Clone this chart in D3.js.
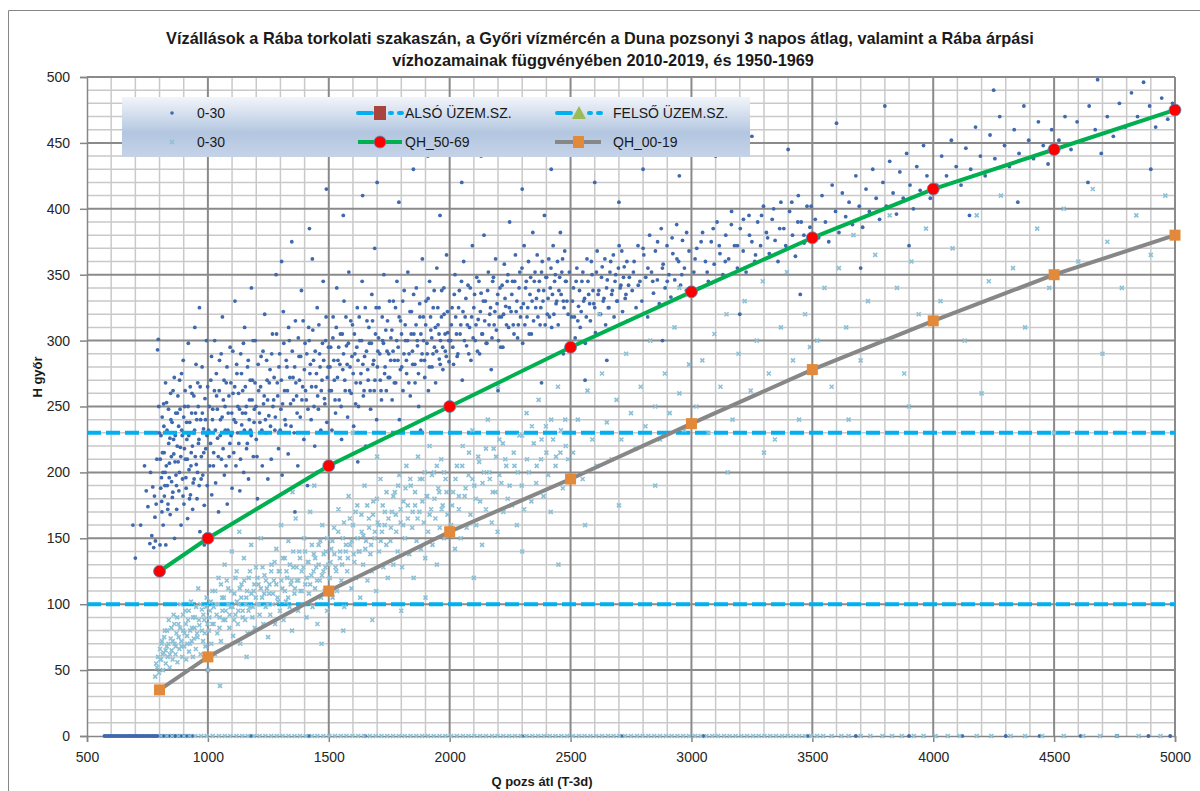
<!DOCTYPE html>
<html>
<head>
<meta charset="utf-8">
<script src="https://cdn.jsdelivr.net/npm/d3@7"></script>
<style>
  body { margin: 0; background: #fff; }
  text { font-family: "Liberation Sans", Arial, sans-serif; }
</style>
</head>
<body>
<div id="chart"></div>
<script>
// ---- data ----
const xTicks = [500, 1000, 1500, 2000, 2500, 3000, 3500, 4000, 4500, 5000];
const yTicks = [0, 50, 100, 150, 200, 250, 300, 350, 400, 450, 500];

const qhCurveQ = [800, 1000, 1500, 2000, 2500, 3000, 3500, 4000, 4500, 5000];
const qh5069 = [125, 150, 205, 250, 295, 337, 378, 415, 445, 475];
const qh0019 = [35, 60, 110, 155, 195, 237, 278, 315, 350, 380];

const alsoLevel = 100;   // ALSÓ ÜZEM.SZ.
const felsoLevel = 230;  // FELSŐ ÜZEM.SZ.

// 0-30 (dark dots), spread + outliers
const darkPts = [
  [690,160],[700,135],[722,160],[738,205],[745,186],[752,174],[760,146],[763,200],[768,152],[772,189],[776,143],[779,182],[783,148],[786,176],[789,210],[792,293],[795,301],[797,250],[799,230],[781,166],
  [802,145],[805,188],[808,196],[810,170],[812,215],[815,160],[818,235],[820,182],[823,200],[826,145],[829,253],[832,190],[835,176],[838,222],[841,207],[844,168],[847,240],[850,193],[853,181],[856,262],[859,214],[862,150],[865,228],[868,198],[871,172],[874,245],[877,208],[880,186],[883,270],[886,219],[889,160],[892,232],[895,195],[898,285],[901,176],[904,250],[907,210],[910,188],[913,225],[916,165],[919,298],[922,202],[925,238],[928,183],[931,215],[934,260],[937,172],[940,230],[943,195],[946,310],[949,245],[952,206],[955,180],[958,268],[961,222],[964,190],[967,155],[970,240],[973,212],[976,280],[979,198],[982,233],[985,175],[988,256],[991,218],[994,300],[997,190],[999,265],[965,325],[985,145],
  [1003,232],[1008,205],[1012,270],[1016,183],[1020,248],[1024,215],[1028,300],[1032,192],[1036,258],[1040,226],[1044,170],[1048,285],[1052,240],[1056,210],[1060,318],[1064,255],[1068,198],[1072,232],[1076,268],[1080,176],[1084,245],[1088,212],[1092,295],[1096,228],[1100,188],[1104,260],[1108,240],[1112,330],[1116,205],[1120,275],[1124,250],[1128,222],[1132,186],[1136,290],[1140,236],[1144,262],[1148,200],[1152,310],[1156,245],[1160,218],[1164,280],[1168,195],[1172,255],[1176,232],[1180,340],[1184,270],[1188,212],[1192,248],[1196,300],[1200,225],[1205,180],[1210,262],[1215,238],[1220,288],[1225,205],[1230,252],[1235,320],[1240,230],[1245,270],[1248,195],
  [1252,243],[1257,278],[1262,210],[1267,305],[1272,255],[1277,232],[1282,350],[1287,268],[1292,218],[1297,290],[1302,248],[1307,198],[1312,322],[1317,262],[1322,236],[1327,280],[1332,214],[1337,300],[1342,252],[1347,375],[1352,272],[1357,230],[1362,315],[1367,258],[1372,205],[1377,288],[1382,242],[1387,338],[1392,265],[1397,225],[1402,298],[1407,255],[1412,190],[1417,310],[1422,275],[1427,240],[1432,362],[1437,285],[1442,220],[1447,265],[1452,325],[1457,248],[1462,290],[1467,232],[1472,270],[1477,345],[1482,256],[1487,300],[1492,238],[1497,280],[1305,360],[1420,385],[1360,170],[1450,200],[1490,415],
  [1503,262],[1508,295],[1513,232],[1518,318],[1523,270],[1528,245],[1533,340],[1538,285],[1543,255],[1548,305],[1553,225],[1558,278],[1563,330],[1568,262],[1573,296],[1578,242],[1583,352],[1588,280],[1593,260],[1598,312],[1603,235],[1608,290],[1613,268],[1618,325],[1623,250],[1628,300],[1633,275],[1638,345],[1643,258],[1648,288],[1653,220],[1658,315],[1663,270],[1668,298],[1673,248],[1678,335],[1683,282],[1688,262],[1693,305],[1698,240],[1703,292],[1708,325],[1713,270],[1718,255],[1723,300],[1728,350],[1733,280],[1738,262],[1743,315],[1748,290],[1560,395],[1640,410],[1700,420],[1620,208],[1690,370],
  [1752,272],[1757,302],[1762,255],[1767,330],[1772,285],[1777,268],[1782,345],[1787,295],[1792,240],[1797,315],[1802,280],[1807,262],[1812,338],[1817,300],[1822,275],[1827,352],[1832,290],[1837,258],[1842,322],[1847,282],[1852,305],[1857,268],[1862,340],[1867,296],[1872,250],[1877,318],[1882,285],[1887,362],[1892,300],[1897,272],[1902,330],[1907,290],[1912,262],[1917,345],[1922,308],[1927,280],[1932,325],[1937,295],[1942,268],[1947,355],[1952,312],[1957,286],[1962,300],[1967,338],[1972,278],[1977,320],[1982,292],[1987,365],[1992,306],[1997,284],[1790,405],[1850,430],[1910,440],[1960,395],[1880,232],
  [2004,300],[2010,325],[2016,282],[2022,350],[2028,305],[2034,290],[2040,338],[2046,312],[2052,270],[2058,360],[2064,318],[2070,296],[2076,342],[2082,310],[2088,285],[2094,372],[2100,325],[2106,300],[2112,348],[2118,316],[2124,290],[2130,336],[2136,305],[2142,380],[2148,330],[2154,298],[2160,352],[2166,320],[2172,278],[2178,345],[2184,312],[2190,362],[2196,328],[2202,300],[2208,340],[2214,318],[2220,295],[2226,358],[2232,326],[2238,345],[2244,310],[2248,390],[2050,420],[2130,440],[2200,262],
  [2254,322],[2260,345],[2266,305],[2272,365],[2278,330],[2284,312],[2290,352],[2296,325],[2302,298],[2308,372],[2314,340],[2320,318],[2326,360],[2332,335],[2338,305],[2344,382],[2350,345],[2356,325],[2362,365],[2368,338],[2374,312],[2380,352],[2386,330],[2392,395],[2398,348],[2404,320],[2410,362],[2416,340],[2422,310],[2428,372],[2434,345],[2440,328],[2446,360],[2452,338],[2458,382],[2464,352],[2470,330],[2476,368],[2482,345],[2490,320],[2300,415],[2420,430],[2380,268],[2470,290],
  [2505,318],[2512,340],[2519,302],[2526,355],[2533,326],[2540,310],[2547,345],[2554,330],[2561,298],[2568,362],[2575,335],[2582,315],[2589,350],[2596,328],[2603,306],[2610,368],[2617,338],[2624,320],[2631,356],[2638,332],[2645,312],[2652,346],[2659,325],[2666,360],[2673,338],[2680,318],[2687,350],[2694,330],[2701,372],[2708,342],[2715,322],[2722,356],[2729,335],[2736,315],[2743,348],[2600,420],[2700,405],[2560,270],[2650,285],
  [2755,338],[2763,360],[2771,325],[2779,372],[2787,345],[2795,330],[2803,365],[2811,348],[2819,318],[2827,380],[2835,352],[2843,336],[2851,368],[2859,346],[2867,328],[2875,385],[2883,358],[2891,340],[2899,372],[2907,350],[2915,333],[2923,366],[2931,346],[2939,388],[2947,360],[2955,342],[2963,376],[2971,355],[2979,338],[2990,368],[2800,430],[2950,425],[2880,300],
  [3010,352],[3022,370],[3034,340],[3046,382],[3058,360],[3070,345],[3082,375],[3094,358],[3106,390],[3118,366],[3130,350],[3142,380],[3154,362],[3166,398],[3178,372],[3190,355],[3202,385],[3214,368],[3226,352],[3238,395],[3250,375],[3262,360],[3274,390],[3286,372],[3298,402],[3310,382],[3322,366],[3334,392],[3346,376],[3358,360],[3370,405],[3382,385],[3394,370],[3406,398],[3418,380],[3430,364],[3442,410],[3454,390],[3466,374],[3478,402],[3490,386],[3100,440],[3250,455],[3400,445],[3200,320],[3450,335],
  [3512,392],[3526,378],[3540,410],[3554,390],[3568,375],[3582,418],[3596,398],[3610,382],[3624,412],[3638,394],[3652,405],[3666,388],[3680,425],[3694,402],[3708,386],[3722,415],[3736,398],[3750,430],[3764,408],[3778,392],[3792,420],[3806,402],[3820,436],[3834,412],[3848,396],[3862,428],[3876,408],[3890,442],[3904,418],[3918,400],[3932,432],[3946,414],[3960,448],[3974,425],[3988,408],[3600,465],[3800,478],[3700,355],[3900,372],
  [4015,418],[4035,440],[4055,425],[4075,452],[4095,432],[4115,418],[4135,446],[4155,430],[4175,462],[4195,440],[4215,425],[4235,456],[4255,438],[4275,470],[4295,448],[4315,432],[4335,460],[4355,442],[4375,478],[4395,452],[4415,438],[4435,466],[4455,448],[4475,434],[4490,460],[4150,395],[4350,405],[4250,490],
  [4520,452],[4545,470],[4570,445],[4595,466],[4620,452],[4645,478],[4670,460],[4695,442],[4720,470],[4745,455],[4770,480],[4795,462],[4820,488],[4845,470],[4870,496],[4895,478],[4920,462],[4945,484],[4970,468],[4990,480],[4640,420],[4900,430],[4680,498]
];

// 0-30 (dark dots), dense core of the cloud
const darkCore = [
  [803,210],[806,228],[809,178],[811,242],[814,200],[817,252],[819,215],[822,190],[825,268],[828,205],[831,232],[834,172],[837,248],[840,196],[843,226],[846,260],[849,212],[852,238],[855,185],[858,225],[861,272],[864,208],[867,245],[870,190],[873,220],[876,258],[879,235],[882,200],[885,248],[888,212],[891,275],[894,228],[897,182],[900,242],[903,218],[906,262],[909,196],[912,238],[915,210],[918,250],[921,228],[924,180],[927,265],[930,205],[933,245],[936,220],[939,192],[942,258],[945,232],[948,212],[951,282],[954,240],[957,200],[960,250],[963,225],[968,265],[972,195],[977,245],[983,215],[990,240],[996,228],
  [1006,250],[1011,222],[1015,288],[1019,240],[1023,205],[1027,262],[1031,232],[1035,275],[1039,248],[1043,212],[1047,262],[1051,228],[1055,290],[1059,242],[1063,218],[1067,270],[1071,250],[1075,205],[1079,280],[1083,232],[1087,258],[1091,222],[1095,268],[1099,245],[1103,292],[1107,215],[1111,265],[1115,238],[1119,282],[1123,230],[1127,260],[1131,248],[1135,210],[1139,275],[1143,245],[1147,298],[1151,232],[1155,265],[1159,250],[1163,222],[1167,285],[1171,240],[1175,270],[1179,228],[1183,255],[1187,300],[1191,238],[1195,268],[1199,250],[1203,212],[1208,282],[1213,245],[1218,265],[1223,232],[1228,292],[1233,258],[1238,240],[1243,285],[1247,255],
  [1254,268],[1259,235],[1264,290],[1269,250],[1274,272],[1279,242],[1284,305],[1289,258],[1294,280],[1299,232],[1304,270],[1309,252],[1314,298],[1319,240],[1324,285],[1329,262],[1334,310],[1339,272],[1344,235],[1349,292],[1354,255],[1359,280],[1364,268],[1369,245],[1374,302],[1379,270],[1384,288],[1389,255],[1394,315],[1399,278],[1404,262],[1409,290],[1414,248],[1419,300],[1424,282],[1429,265],[1434,308],[1439,250],[1444,292],[1449,275],[1454,258],[1459,312],[1464,280],[1469,262],[1474,298],[1479,285],[1484,252],[1489,318],[1494,272],[1499,295],
  [1505,280],[1511,262],[1517,302],[1521,285],[1526,255],[1531,310],[1536,272],[1541,295],[1546,282],[1551,250],[1556,305],[1561,290],[1566,270],[1571,318],[1576,282],[1581,298],[1586,262],[1591,315],[1596,288],[1601,275],[1606,305],[1611,252],[1616,295],[1621,285],[1626,318],[1631,268],[1636,300],[1641,282],[1646,262],[1651,325],[1656,292],[1661,278],[1666,310],[1671,262],[1676,298],[1681,315],[1686,285],[1691,270],[1696,325],[1701,280],[1706,302],[1711,290],[1716,262],[1721,318],[1726,298],[1731,275],[1736,308],[1741,292],[1746,272],
  [1751,330],[1756,285],[1761,308],[1766,292],[1771,268],[1776,325],[1781,300],[1786,285],[1791,318],[1796,278],[1801,305],[1806,330],[1811,290],[1816,312],[1821,285],[1826,300],[1831,268],[1836,322],[1841,305],[1846,292],[1851,335],[1856,282],[1861,312],[1866,300],[1871,275],[1876,328],[1881,305],[1886,290],[1891,318],[1896,285],[1901,312],[1906,298],[1911,332],[1916,280],[1921,318],[1926,302],[1931,290],[1936,338],[1941,310],[1946,292],[1951,325],[1956,305],[1961,282],[1966,318],[1971,295],[1976,340],[1981,305],[1986,288],[1991,322],[1996,300],
  [2007,312],[2013,295],[2019,335],[2025,318],[2031,288],[2037,325],[2043,305],[2049,345],[2055,322],[2061,300],[2067,332],[2073,312],[2079,290],[2085,340],[2091,318],[2097,302],[2103,335],[2109,312],[2115,292],[2121,345],[2127,322],[2133,305],[2139,330],[2145,315],[2151,298],[2157,338],[2163,312],[2169,325],[2175,302],[2181,348],[2187,322],[2193,308],[2199,335],[2205,318],[2211,295],[2217,342],[2223,320],[2229,332],[2235,312],[2241,350],[2247,325],
  [2257,335],[2263,312],[2269,345],[2275,322],[2281,302],[2287,340],[2293,318],[2299,355],[2305,328],[2311,312],[2317,345],[2323,325],[2329,305],[2335,348],[2341,330],[2347,315],[2353,352],[2359,332],[2365,318],[2371,345],[2377,325],[2383,360],[2389,338],[2395,312],[2401,348],[2407,332],[2413,318],[2419,355],[2425,335],[2431,320],[2437,350],[2443,330],[2449,312],[2455,348],[2461,335],[2467,362],[2473,325],[2479,345],[2485,330],[2495,352],
  [2508,330],[2516,318],[2523,345],[2530,315],[2537,338],[2544,322],[2551,352],[2558,332],[2565,318],[2572,345],[2579,328],[2586,360],[2593,338],[2600,325],[2607,352],[2614,335],[2621,320],[2628,348],[2635,330],[2642,362],[2649,340],[2656,325],[2663,352],[2670,335],[2677,365],[2684,345],[2691,330],[2698,355],[2705,340],[2712,368],[2719,348],[2726,332],[2733,360],[2740,342],[2760,352],[2780,342],[2800,370],[2820,355],[2840,345],[2860,375],[2880,355],[2900,345],[2920,378],[2940,362],[2960,350],[2980,382],
  [3015,362],[3040,375],[3065,352],[3090,385],[3115,372],[3140,360],[3165,388],[3190,372],[3215,392],[3240,380],[3265,365],[3290,395],[3315,378],[3340,400],[3365,385],[3390,372],[3415,405],[3440,390],[3465,380],[3495,402]
];

// 0-30 (light x markers), spread + outliers
const lightPts = [
  [782,45],[786,55],[790,52],[794,60],[798,48],[802,66],[806,58],[810,72],[814,50],[818,63],[822,80],[826,55],[830,68],[834,60],[838,88],[842,52],[846,74],[850,65],[854,58],[858,92],[862,70],[866,62],[870,78],[874,56],[878,85],[882,66],[886,100],[890,72],[894,60],[898,80],[902,68],[906,95],[910,58],[914,76],[918,88],[922,64],[926,70],[930,102],[934,82],[938,60],[942,74],[946,90],[950,66],[955,78],[960,112],[965,84],[970,62],[975,96],[980,72],[985,88],[990,68],[995,105],[1050,38],[1000,50],
  [1004,80],[1009,95],[1014,70],[1019,110],[1024,85],[1029,62],[1034,100],[1039,78],[1044,120],[1049,90],[1054,72],[1059,105],[1064,88],[1069,130],[1074,95],[1079,68],[1084,112],[1089,82],[1094,98],[1099,140],[1104,76],[1109,108],[1114,92],[1119,125],[1124,85],[1129,100],[1134,70],[1139,115],[1144,95],[1149,135],[1154,88],[1159,105],[1164,78],[1169,120],[1174,98],[1179,145],[1184,90],[1189,110],[1194,82],[1199,128],[1204,100],[1209,115],[1214,92],[1219,150],[1224,105],[1229,85],[1234,122],[1239,98],[1244,112],[1249,75],[1130,155],[1160,60],
  [1253,108],[1258,92],[1263,130],[1268,100],[1273,118],[1278,85],[1283,142],[1288,105],[1293,125],[1298,95],[1303,160],[1308,112],[1313,88],[1318,135],[1323,102],[1328,120],[1333,148],[1338,98],[1343,115],[1348,80],[1353,128],[1358,108],[1363,165],[1368,118],[1373,95],[1378,140],[1383,110],[1388,125],[1393,100],[1398,150],[1403,115],[1408,90],[1413,132],[1418,108],[1423,170],[1428,122],[1433,98],[1438,138],[1443,112],[1448,128],[1453,85],[1458,145],[1463,118],[1468,105],[1473,160],[1478,125],[1483,110],[1488,140],[1493,95],[1498,130],[1350,185],[1440,190],[1470,70],
  [1504,120],[1510,142],[1516,105],[1522,158],[1528,128],[1534,110],[1540,172],[1546,135],[1552,118],[1558,150],[1564,98],[1570,140],[1576,125],[1582,182],[1588,145],[1594,112],[1600,160],[1606,132],[1612,120],[1618,175],[1624,140],[1630,105],[1636,155],[1642,130],[1648,190],[1654,148],[1660,118],[1666,165],[1672,138],[1678,125],[1684,178],[1690,150],[1696,110],[1702,162],[1708,140],[1714,195],[1720,155],[1726,128],[1732,170],[1738,145],[1744,120],[1600,230],[1700,212],[1560,80],[1680,88],
  [1755,148],[1761,170],[1767,130],[1773,185],[1779,155],[1785,140],[1791,198],[1797,162],[1803,128],[1809,178],[1815,150],[1821,205],[1827,165],[1833,138],[1839,190],[1845,158],[1851,120],[1857,175],[1863,148],[1869,212],[1875,170],[1881,142],[1887,195],[1893,162],[1899,135],[1905,182],[1911,155],[1917,220],[1923,172],[1929,145],[1935,200],[1941,165],[1947,130],[1953,188],[1959,158],[1965,210],[1971,175],[1977,150],[1983,195],[1991,168],[1800,95],[1900,105],
  [2006,160],[2014,185],[2022,142],[2030,205],[2038,172],[2046,150],[2054,220],[2062,182],[2070,158],[2078,198],[2086,168],[2094,232],[2102,190],[2110,160],[2118,212],[2126,178],[2134,145],[2142,200],[2150,172],[2158,240],[2166,195],[2174,162],[2182,218],[2190,185],[2198,155],[2206,225],[2214,192],[2222,170],[2230,210],[2240,180],[2100,120],[2200,265],
  [2258,175],[2268,205],[2278,160],[2288,228],[2298,190],[2308,172],[2318,245],[2328,200],[2338,178],[2348,222],[2358,192],[2368,255],[2378,210],[2388,182],[2398,235],[2408,198],[2418,170],[2428,225],[2438,205],[2448,265],[2458,215],[2468,188],[2478,240],[2490,210],[2300,140],[2450,130],
  [2510,215],[2530,240],[2550,195],[2570,262],[2590,225],[2610,205],[2630,275],[2650,238],[2670,210],[2690,255],[2710,225],[2730,290],[2750,245],[2770,218],[2790,265],[2810,235],[2830,300],[2850,250],[2870,225],[2890,275],[2910,245],[2930,310],[2950,260],[2970,232],[2990,282],[2560,160],[2700,175],[2850,190],[2620,320],[2950,340],
  [3020,250],[3045,285],[3070,230],[3095,305],[3120,265],[3145,320],[3170,240],[3195,290],[3220,330],[3245,262],[3270,300],[3295,345],[3320,275],[3345,225],[3370,310],[3395,352],[3420,285],[3445,240],[3470,320],[3490,295],[3150,200],[3300,215],
  [3520,300],[3550,340],[3580,265],[3610,355],[3640,310],[3670,380],[3700,285],[3730,330],[3760,365],[3790,300],[3820,395],[3850,340],[3880,275],[3910,360],[3940,320],[3970,385],[3650,240],[3900,250],
  [4030,330],[4080,370],[4130,300],[4180,395],[4230,345],[4280,410],[4330,355],[4380,310],[4430,385],[4480,340],[4540,400],[4600,360],[4660,415],[4720,375],[4780,340],[4840,395],[4900,365],[4960,410],[4200,260],[4700,290],[4500,230]
];

// 0-30 (light x markers), dense core
const lightCore = [
  [803,58],[808,70],[813,62],[819,75],[825,65],[831,80],[837,70],[843,62],[849,82],[855,72],[861,85],[867,68],[873,90],[879,75],[885,82],[891,68],[897,92],[903,78],[909,85],[915,70],[921,95],[927,80],[933,72],[939,90],[945,82],[951,98],[957,75],[963,88],[969,100],[975,80],[981,92],[987,78],[993,98],[998,85],
  [1006,90],[1012,102],[1018,85],[1024,98],[1030,110],[1036,92],[1042,100],[1048,82],[1054,115],[1060,95],[1066,105],[1072,88],[1078,118],[1084,100],[1090,92],[1096,110],[1102,98],[1108,88],[1114,120],[1120,102],[1126,95],[1132,112],[1138,105],[1144,90],[1150,118],[1156,100],[1162,110],[1168,95],[1174,125],[1180,108],[1186,98],[1192,115],[1198,105],[1205,120],[1212,100],[1219,112],[1226,128],[1233,108],[1240,118],[1247,100],
  [1255,115],[1262,125],[1269,108],[1276,132],[1283,115],[1290,102],[1297,125],[1304,118],[1311,135],[1318,110],[1325,125],[1332,105],[1339,130],[1346,118],[1353,140],[1360,112],[1367,128],[1374,118],[1381,135],[1388,110],[1395,128],[1402,140],[1409,120],[1416,132],[1423,115],[1430,145],[1437,125],[1444,135],[1451,118],[1458,130],[1465,148],[1472,122],[1479,138],[1486,128],[1493,150],
  [1507,132],[1515,148],[1523,138],[1531,125],[1539,155],[1547,140],[1555,130],[1563,162],[1571,145],[1579,135],[1587,165],[1595,148],[1603,138],[1611,170],[1619,150],[1627,140],[1635,168],[1643,152],[1651,142],[1659,175],[1667,158],[1675,145],[1683,168],[1691,155],[1699,180],[1707,160],[1715,148],[1723,175],[1731,160],[1739,185],[1747,165],
  [1757,158],[1767,182],[1777,168],[1787,190],[1797,172],[1807,160],[1817,188],[1827,175],[1837,195],[1847,170],[1857,185],[1867,165],[1877,195],[1887,178],[1897,200],[1907,182],[1917,168],[1927,198],[1937,180],[1947,205],[1957,185],[1967,172],[1977,200],[1987,185],
  [2010,175],[2024,195],[2038,182],[2052,205],[2066,188],[2080,215],[2094,195],[2108,180],[2122,208],[2136,192],[2150,218],[2164,200],[2178,185],[2192,212],[2206,198],[2220,222],[2234,205],[2248,190],[2265,215],[2282,200],[2300,228],[2320,210],[2340,235],[2360,205],[2380,225],[2400,215],[2420,240],[2440,212],[2460,232],[2480,220]
];

// points sitting on H = 0
const zeroDarkQ = [572,580,588,595,603,611,618,626,634,641,649,657,664,672,680,687,695,703,710,718,726,733,741,749,756,764,772,779,787,795,802,810,818,826,834,842,850,858,866,874,882,890,898,906,915,925,935,1180,1420,1650,2300,2710,3050,3480,3680,3900,4120,4300,4440,4610,4760,4890,4980];
const zeroLightQ = [805,830,852,878,901,925,948,972,995,1020,1046,1070,1093,1118,1142,1165,1190,1214,1238,1262,1285,1310,1334,1358,1381,1405,1430,1453,1478,1502,1526,1550,1573,1598,1622,1646,1670,1694,1718,1742,1766,1790,1814,1838,1862,1886,1910,1934,1958,1982,2006,2030,2055,2078,2102,2126,2150,2175,2198,2222,2246,2270,2294,2318,2342,2366,2390,2414,2438,2462,2486,2510,2535,2558,2582,2606,2630,2655,2678,2702,2726,2750,2775,2798,2822,2846,2870,2895,2918,2942,2966,2990,3015,3038,3062,3086,3110,3135,3158,3182,3206,3230,3255,3278,3302,3326,3350,3375,3398,3422,3446,3470,3495,3520,3545,3580,3620,3650,3700,3740,3790,3830,3870,3920,3960,4010,4060,4110,4180,4240,4320,4380,4450,4540,4620,4690,4760,4850,4940];

// ---- layout ----
const W = 1200, H = 791;
const plot = { left: 87, right: 1175, top: 77, bottom: 736 };

const x = d3.scaleLinear().domain([500, 5000]).range([plot.left, plot.right]);
const y = d3.scaleLinear().domain([0, 500]).range([plot.bottom, plot.top]);

const darkCol = "#3f68ad", lightCol = "#8cc0d6", dashCol = "#00b0f0";

const svg = d3.select("#chart").append("svg")
  .attr("width", W).attr("height", H);

svg.append("rect").attr("width", W).attr("height", H).attr("fill", "#fff");

// outer chart frame (only left/top visible)
svg.append("path")
  .attr("d", `M8.5,${H + 5} V10.5 H${W + 5}`)
  .attr("fill", "none").attr("stroke", "#868686").attr("stroke-width", 1);

// title
const title = svg.append("text")
  .attr("text-anchor", "middle")
  .attr("font-weight", "bold").attr("font-size", 16.3).attr("fill", "#1a1a1a");
title.append("tspan").attr("x", 600).attr("y", 44)
  .text("Vízállások a Rába torkolati szakaszán, a Győri vízmércén a Duna pozsonyi 3 napos átlag, valamint a Rába árpási");
title.append("tspan").attr("x", 603).attr("y", 66)
  .text("vízhozamainak függvényében 2010-2019, és 1950-1969");

// ---- grid ----
const grid = svg.append("g");
const minorX = d3.range(600, 5000, 100).filter(v => v % 500 !== 0);
const minorY = d3.range(10, 500, 10).filter(v => v % 50 !== 0);

grid.selectAll(".vx").data(minorX).join("line")
  .attr("x1", d => x(d)).attr("x2", d => x(d))
  .attr("y1", plot.top).attr("y2", plot.bottom)
  .attr("stroke", "#c9c9c9").attr("stroke-width", 1.5);
grid.selectAll(".hy").data(minorY).join("line")
  .attr("y1", d => y(d)).attr("y2", d => y(d))
  .attr("x1", plot.left).attr("x2", plot.right)
  .attr("stroke", "#c9c9c9").attr("stroke-width", 1.5);
grid.selectAll(".vX").data(xTicks.slice(1)).join("line")
  .attr("x1", d => x(d)).attr("x2", d => x(d))
  .attr("y1", plot.top).attr("y2", plot.bottom)
  .attr("stroke", "#8a8a8a").attr("stroke-width", 2);
grid.selectAll(".hY").data(yTicks.slice(1)).join("line")
  .attr("y1", d => y(d)).attr("y2", d => y(d))
  .attr("x1", plot.left).attr("x2", plot.right)
  .attr("stroke", "#8a8a8a").attr("stroke-width", 2);

// ---- axes ----
const xAxis = svg.append("g")
  .attr("transform", `translate(0,${plot.bottom})`)
  .call(d3.axisBottom(x).tickValues(xTicks).tickSize(6).tickPadding(10).tickFormat(d3.format("d")));
const yAxis = svg.append("g")
  .attr("transform", `translate(${plot.left},0)`)
  .call(d3.axisLeft(y).tickValues(yTicks).tickSize(7).tickPadding(10).tickFormat(d3.format("d")));
[xAxis, yAxis].forEach(a => {
  a.select(".domain").attr("stroke", "#868686").attr("stroke-width", 1.5);
  a.selectAll(".tick line").attr("stroke", "#868686").attr("stroke-width", 1.5);
  a.selectAll(".tick text").attr("font-size", 14).attr("fill", "#262626")
    .attr("font-family", "Liberation Sans, Arial, sans-serif");
});

svg.append("text").attr("x", 542).attr("y", 786).attr("text-anchor", "middle")
  .attr("font-weight", "bold").attr("font-size", 13).attr("fill", "#1a1a1a")
  .text("Q pozs átl (T-3d)");
svg.append("text").attr("transform", "translate(42,377) rotate(-90)").attr("text-anchor", "middle")
  .attr("font-weight", "bold").attr("font-size", 13).attr("fill", "#1a1a1a")
  .text("H győr");

// ---- series ----
const xMark = s => `M${-s},${-s}L${s},${s}M${-s},${s}L${s},${-s}`;

// dark dots (incl. zeros)
const darkAll = darkPts.concat(darkCore, zeroDarkQ.map(q => [q, 0]));
svg.append("g").selectAll("circle").data(darkAll).join("circle")
  .attr("cx", d => x(d[0])).attr("cy", d => y(d[1])).attr("r", 1.9)
  .attr("fill", darkCol);

// operating levels (dashed)
const levels = [alsoLevel, felsoLevel];
svg.append("g").selectAll("line").data(levels).join("line")
  .attr("x1", x(500)).attr("x2", x(5000))
  .attr("y1", d => y(d)).attr("y2", d => y(d))
  .attr("stroke", dashCol).attr("stroke-width", 4)
  .attr("stroke-dasharray", "14,5");

// light x markers (incl. zeros)
const lightAll = lightPts.concat(lightCore, zeroLightQ.map(q => [q, 0]));
svg.append("g").selectAll("path").data(lightAll).join("path")
  .attr("transform", d => `translate(${x(d[0])},${y(d[1])})`)
  .attr("d", xMark(2))
  .attr("stroke", lightCol).attr("stroke-width", 1.6).attr("fill", "none");

// QH curves
const line = d3.line().x(d => x(d[0])).y(d => y(d[1]));
const c5069 = qhCurveQ.map((q, i) => [q, qh5069[i]]);
const c0019 = qhCurveQ.map((q, i) => [q, qh0019[i]]);

svg.append("path").datum(c5069).attr("d", line)
  .attr("fill", "none").attr("stroke", "#00b050").attr("stroke-width", 4);
svg.append("g").selectAll("circle").data(c5069).join("circle")
  .attr("cx", d => x(d[0])).attr("cy", d => y(d[1])).attr("r", 6)
  .attr("fill", "#ff0000").attr("stroke", "#4a8fc4").attr("stroke-width", 0.8);

svg.append("path").datum(c0019).attr("d", line)
  .attr("fill", "none").attr("stroke", "#878787").attr("stroke-width", 4);
svg.append("g").selectAll("rect").data(c0019).join("rect")
  .attr("x", d => x(d[0]) - 5.5).attr("y", d => y(d[1]) - 5.5)
  .attr("width", 11).attr("height", 11)
  .attr("fill", "#e2893a");

// ---- legend ----
const defs = svg.append("defs");
const grad = defs.append("linearGradient").attr("id", "lg").attr("x1", 0).attr("x2", 0).attr("y1", 0).attr("y2", 1);
grad.append("stop").attr("offset", "0%").attr("stop-color", "#f2f5fa");
grad.append("stop").attr("offset", "60%").attr("stop-color", "#b3c6e0");
grad.append("stop").attr("offset", "100%").attr("stop-color", "#c5d3e8");

const lg = svg.append("g");
lg.append("rect").attr("x", 122).attr("y", 97).attr("width", 628).attr("height", 60)
  .attr("fill", "url(#lg)");

const row1 = 113, row2 = 142;
const legendText = [
  { x: 197, y: row1, t: "0-30" },
  { x: 405, y: row1, t: "ALSÓ ÜZEM.SZ." },
  { x: 613, y: row1, t: "FELSŐ ÜZEM.SZ." },
  { x: 197, y: row2, t: "0-30" },
  { x: 405, y: row2, t: "QH_50-69" },
  { x: 613, y: row2, t: "QH_00-19" }
];
lg.selectAll("text").data(legendText).join("text")
  .attr("x", d => d.x).attr("y", d => d.y).attr("dy", "0.35em")
  .attr("font-size", 14).attr("fill", "#1a1a1a").text(d => d.t);

lg.append("circle").attr("cx", 172).attr("cy", row1).attr("r", 1.8).attr("fill", darkCol);
lg.append("path").attr("transform", `translate(172,${row2})`).attr("d", xMark(2))
  .attr("stroke", lightCol).attr("stroke-width", 1.6);

// dashed legend keys
[[380, row1, "#a9443e", "sq"], [579, row1, "#9bbb59", "tri"]].forEach(([cx, cy, col, shape]) => {
  lg.append("line").attr("x1", cx - 22).attr("x2", cx - 8).attr("y1", cy).attr("y2", cy)
    .attr("stroke", dashCol).attr("stroke-width", 4).attr("stroke-linecap", "round");
  lg.append("line").attr("x1", cx + 10).attr("x2", cx + 12).attr("y1", cy).attr("y2", cy)
    .attr("stroke", dashCol).attr("stroke-width", 4).attr("stroke-linecap", "round");
  lg.append("line").attr("x1", cx + 19).attr("x2", cx + 22).attr("y1", cy).attr("y2", cy)
    .attr("stroke", dashCol).attr("stroke-width", 4).attr("stroke-linecap", "round");
  if (shape === "sq") {
    lg.append("rect").attr("x", cx - 6).attr("y", cy - 7).attr("width", 12).attr("height", 14).attr("fill", col);
  } else {
    lg.append("path").attr("d", `M${cx},${cy - 7}L${cx + 7},${cy + 6}L${cx - 7},${cy + 6}Z`).attr("fill", col);
  }
});

// solid legend keys
lg.append("line").attr("x1", 358).attr("x2", 402).attr("y1", row2).attr("y2", row2)
  .attr("stroke", "#00b050").attr("stroke-width", 4);
lg.append("circle").attr("cx", 380).attr("cy", row2).attr("r", 6)
  .attr("fill", "#ff0000").attr("stroke", "#4a8fc4").attr("stroke-width", 0.8);
lg.append("line").attr("x1", 555).attr("x2", 601).attr("y1", row2).attr("y2", row2)
  .attr("stroke", "#878787").attr("stroke-width", 4);
lg.append("rect").attr("x", 573).attr("y", row2 - 6).attr("width", 11).attr("height", 12)
  .attr("fill", "#e2893a");
</script>
</body>
</html>
